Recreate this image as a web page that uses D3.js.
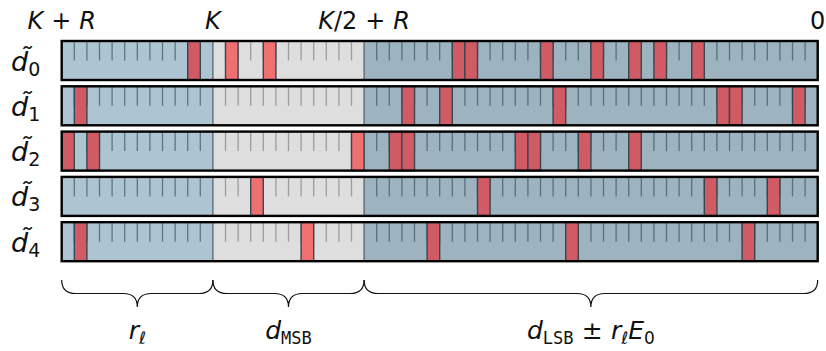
<!DOCTYPE html>
<html>
<head>
<meta charset="utf-8">
<script src="https://cdn.jsdelivr.net/npm/d3@7"></script>
<style>
  html, body { margin: 0; padding: 0; background: #fff; }
  svg { display: block; }
  text { font-family: "DejaVu Sans", "Open Sans", sans-serif; fill: #111; }
</style>
</head>
<body>
<svg id="chart" width="826" height="351"></svg>
<script>
// Word layout: 60 digit cells split into r_l, d_MSB and d_LSB parts
const cellCount = 60;
const sectionKeys = ["rl", "msb", "lsb"];
const sectionStart = [0, 12, 24];
const sectionEnd = [12, 24, 60];
const boundaryCells = [0, 12, 24, 60];
const rowIds = ["0", "1", "2", "3", "4"];

// Positions of the highlighted (non-zero) digits in each row
const marksRow0 = [10, 13, 16, 31, 32, 38, 42, 45, 47, 50];
const marksRow1 = [1, 27, 30, 39, 52, 53, 58];
const marksRow2 = [0, 2, 23, 26, 27, 36, 37, 41, 45];
const marksRow3 = [15, 33, 51, 56];
const marksRow4 = [1, 19, 29, 40, 54];
const marks = [marksRow0, marksRow1, marksRow2, marksRow3, marksRow4];

const sectionFill = { rl: "#adc5d3", msb: "#dedede", lsb: "#9db3c0" };
const tickStroke = { rl: "#5e7482", msb: "#9c9c9c", lsb: "#5a6f7c" };
const markFill = { rl: "#d15b65", msb: "#f06f70", lsb: "#d15b65" };

const svg = d3.select("#chart");

const x = d3.scaleLinear().domain([0, cellCount]).range([61.7, 817.7]);
const y = d3.scaleBand().domain(rowIds).range([41, 261.2]).paddingInner(0.139).paddingOuter(0);
const h = y.bandwidth();

const sectionOf = c => c < 12 ? "rl" : (c < 24 ? "msb" : "lsb");

const rows = svg.selectAll("g.row").data(rowIds).join("g")
  .attr("class", "row")
  .attr("transform", d => `translate(0,${y(d)})`);

// section backgrounds
rows.selectAll("rect.sec").data(sectionKeys.map((k, i) => ({ k, i }))).join("rect")
  .attr("class", "sec")
  .attr("x", d => x(sectionStart[d.i]))
  .attr("width", d => x(sectionEnd[d.i]) - x(sectionStart[d.i]))
  .attr("y", 0).attr("height", h)
  .attr("fill", d => sectionFill[d.k]);

// half-height digit ticks
const inner = d3.range(1, cellCount).filter(c => !boundaryCells.includes(c));
rows.selectAll("line.tick").data(inner).join("line")
  .attr("class", "tick")
  .attr("x1", d => x(d)).attr("x2", d => x(d))
  .attr("y1", 0).attr("y2", h * 0.5)
  .attr("stroke", d => tickStroke[sectionOf(d)])
  .attr("stroke-width", 1.3);

// full-height section dividers
rows.selectAll("line.div").data([12, 24]).join("line")
  .attr("class", "div")
  .attr("x1", d => x(d)).attr("x2", d => x(d))
  .attr("y1", 0).attr("y2", h)
  .attr("stroke", "#55636d").attr("stroke-width", 1.3);

// highlighted digits
rows.selectAll("rect.mark").data((d, i) => marks[i]).join("rect")
  .attr("class", "mark")
  .attr("x", d => x(d)).attr("width", d => x(d + 1) - x(d))
  .attr("y", 0).attr("height", h)
  .attr("fill", d => markFill[sectionOf(d)])
  .attr("stroke", "#3a464f").attr("stroke-width", 1.4);

// outer frame
rows.append("rect")
  .attr("x", x(0)).attr("width", x(cellCount) - x(0))
  .attr("y", 0).attr("height", h)
  .attr("fill", "none").attr("stroke", "#000").attr("stroke-width", 2.4);

// row labels  d~_i
rows.append("text")
  .attr("x", 11).attr("y", h / 2 + 10)
  .style("font-size", "27px").style("font-style", "italic")
  .text("d\u0303")
  .append("tspan").attr("dy", 5).style("font-style", "normal").style("font-size", "19px")
  .text(d => d);

// boundary labels over the first bar
const sp = "\u2004";
const topLabels = [
  [["K", true], [sp + "+" + sp, false], ["R", true]],
  [["K", true]],
  [["K", true], ["/2" + sp + "+" + sp, false], ["R", true]],
  [["0", false]]
];
svg.selectAll("text.top").data(boundaryCells).join("text")
  .attr("class", "top")
  .attr("x", d => x(d)).attr("y", 29)
  .attr("text-anchor", "middle")
  .style("font-size", "24px")
  .each(function (d, i) {
    d3.select(this).selectAll("tspan").data(topLabels[i]).join("tspan")
      .style("font-style", p => p[1] ? "italic" : "normal")
      .text(p => p[0]);
  });

// braces under the bars
const yTop = 280, yMid = 293.5, yTip = 307, rr = 14;
function brace(a, b) {
  const m = (a + b) / 2;
  return `M${a},${yTop} Q${a},${yMid} ${a + rr},${yMid} L${m - rr},${yMid} Q${m},${yMid} ${m},${yTip}` +
         ` Q${m},${yMid} ${m + rr},${yMid} L${b - rr},${yMid} Q${b},${yMid} ${b},${yTop}`;
}
svg.selectAll("path.brace").data(sectionKeys.map((k, i) => i)).join("path")
  .attr("class", "brace")
  .attr("d", i => brace(x(sectionStart[i]), x(sectionEnd[i])))
  .attr("fill", "none").attr("stroke", "#111").attr("stroke-width", 1.2);

// brace captions
const mono = "'DejaVu Sans Mono', 'Liberation Mono', monospace";
const captions = [
  [{ t: "r", it: true }, { t: "ℓ", sub: true }],
  [{ t: "d", it: true }, { t: "MSB", sub: true, mono: true }],
  [{ t: "d", it: true }, { t: "LSB", sub: true, mono: true }, { t: sp + "±" + sp, up: true },
   { t: "r", it: true }, { t: "ℓ", sub: true }, { t: "E", it: true }, { t: "0", sub: true }]
];
svg.selectAll("text.cap").data(sectionKeys.map((k, i) => i)).join("text")
  .attr("class", "cap")
  .attr("x", i => (x(sectionStart[i]) + x(sectionEnd[i])) / 2)
  .attr("y", 339)
  .attr("text-anchor", "middle")
  .style("font-size", "25px")
  .each(function (i) {
    let shifted = false;
    d3.select(this).selectAll("tspan").data(captions[i]).join("tspan")
      .style("font-style", p => p.it ? "italic" : "normal")
      .style("font-size", p => p.sub ? "17px" : null)
      .style("font-family", p => p.mono ? mono : null)
      .attr("dy", p => {
        let dy = 0;
        if (p.sub && !shifted) { dy = 5; shifted = true; }
        else if (!p.sub && shifted) { dy = -5; shifted = false; }
        return dy;
      })
      .text(p => p.t);
  });
</script>
</body>
</html>
